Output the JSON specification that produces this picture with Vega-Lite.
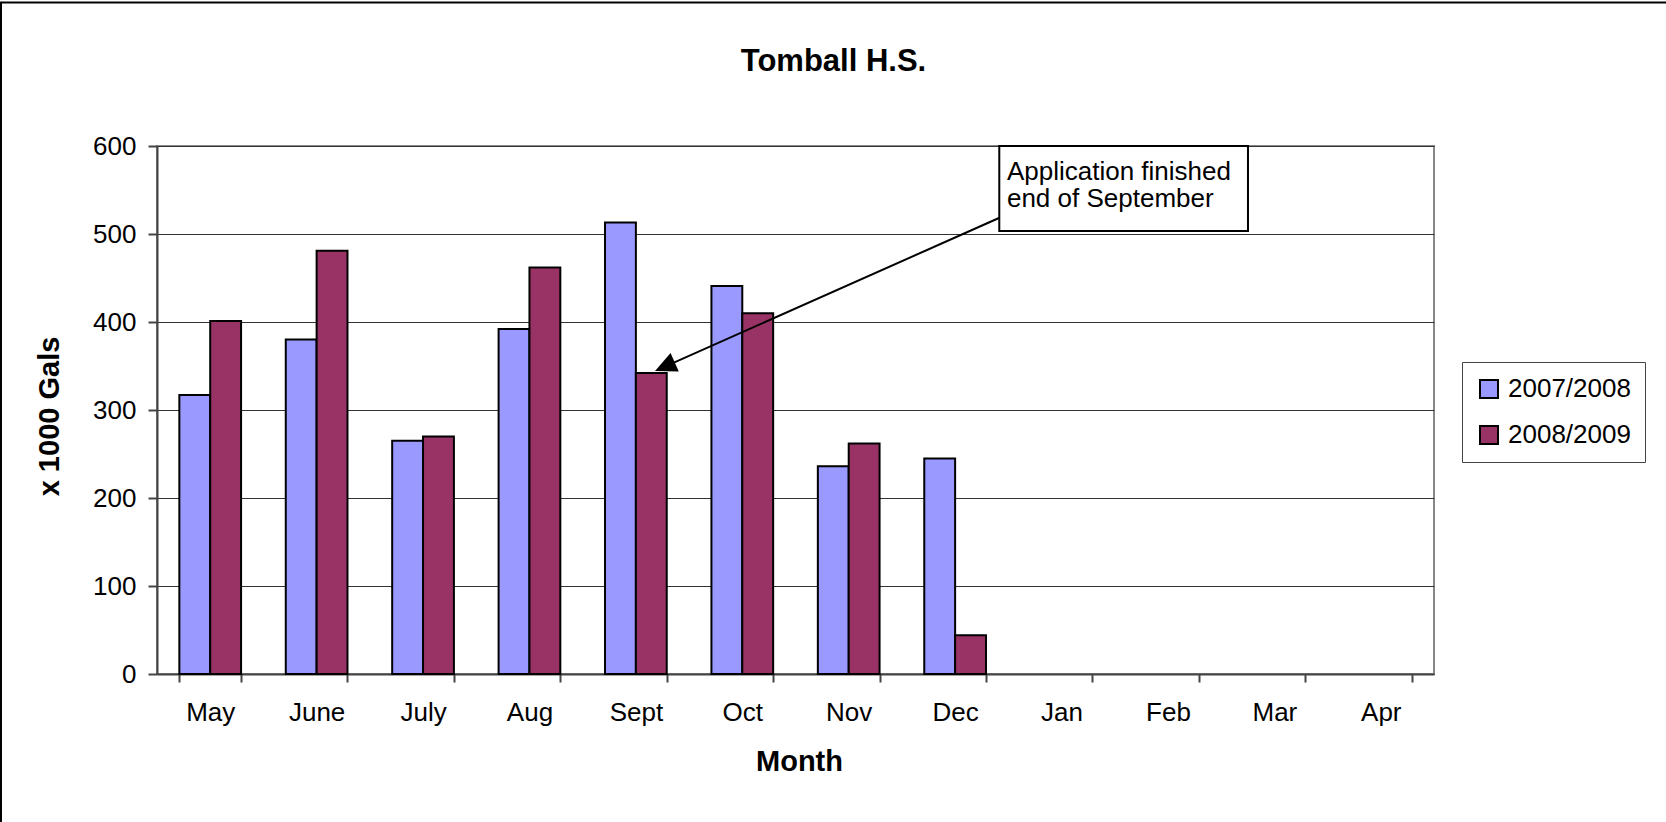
{
  "$schema": "https://vega.github.io/schema/vega-lite/v6.json",
  "width": 1277,
  "height": 528,
  "autosize": {"type": "none"},
  "padding": {"left": 157, "top": 146, "right": 232, "bottom": 148},
  "background": "white",
  "title": {
    "text": "Tomball H.S.",
    "fontSize": 31,
    "fontWeight": "bold",
    "color": "black",
    "anchor": "middle",
    "frame": "group",
    "baseline": "alphabetic",
    "dx": 38,
    "offset": -101
  },
  "config": {
    "font": "Liberation Sans",
    "view": {"stroke": "#888888", "strokeWidth": 2},
    "axis": {"labelColor": "black", "titleColor": "black", "labelFont": "Liberation Sans", "titleFont": "Liberation Sans"}
  },
  "datasets": {
    "usage": [
      {"month": "May", "season": "2007/2008", "gals": 317},
      {"month": "May", "season": "2008/2009", "gals": 401},
      {"month": "June", "season": "2007/2008", "gals": 380},
      {"month": "June", "season": "2008/2009", "gals": 481},
      {"month": "July", "season": "2007/2008", "gals": 265},
      {"month": "July", "season": "2008/2009", "gals": 270},
      {"month": "Aug", "season": "2007/2008", "gals": 392},
      {"month": "Aug", "season": "2008/2009", "gals": 462},
      {"month": "Sept", "season": "2007/2008", "gals": 513},
      {"month": "Sept", "season": "2008/2009", "gals": 342},
      {"month": "Oct", "season": "2007/2008", "gals": 441},
      {"month": "Oct", "season": "2008/2009", "gals": 410},
      {"month": "Nov", "season": "2007/2008", "gals": 236},
      {"month": "Nov", "season": "2008/2009", "gals": 262},
      {"month": "Dec", "season": "2007/2008", "gals": 245},
      {"month": "Dec", "season": "2008/2009", "gals": 44}
    ],
    "notebox": [{"x": 7.915, "x2": 10.252, "y": 600, "y2": 503.4}],
    "notetext": [
      {"x": 7.987, "y": 561.4, "text": "Application finished"},
      {"x": 7.987, "y": 530.7, "text": "end of September"}
    ],
    "arrowline": [{"x": 7.912, "y": 518.2, "x2": 4.809, "y2": 351.3}],
    "arrowhead": [{"x": 4.68, "y": 344.3}],
    "frame": [{"x": -1.466, "x2": 16, "y": 763.1, "y2": -300}]
  },
  "layer": [
    {
      "data": {"name": "usage"},
      "mark": {"type": "bar", "stroke": "black", "strokeWidth": 2},
      "encoding": {
        "x": {
          "field": "month",
          "type": "nominal",
          "sort": null,
          "scale": {
            "domain": ["May", "June", "July", "Aug", "Sept", "Oct", "Nov", "Dec", "Jan", "Feb", "Mar", "Apr"],
            "paddingInner": 0.42,
            "paddingOuter": 0.21
          },
          "axis": {
            "title": "Month",
            "titleFontSize": 29,
            "titleFontWeight": "bold",
            "titleBaseline": "alphabetic",
            "titleX": 642,
            "titleY": 96,
            "labelAngle": 0,
            "labelFontSize": 26,
            "labelPadding": 17,
            "tickBand": "extent",
            "tickSize": 8,
            "tickColor": "#444444",
            "tickWidth": 2,
            "domainColor": "#444444",
            "domainWidth": 2,
            "grid": false
          }
        },
        "xOffset": {
          "field": "season",
          "type": "nominal",
          "scale": {"paddingInner": 0, "paddingOuter": 0}
        },
        "y": {
          "field": "gals",
          "type": "quantitative",
          "scale": {"domain": [0, 600], "nice": false},
          "axis": {
            "title": "x 1000 Gals",
            "titleFontSize": 29,
            "titleFontWeight": "bold",
            "titleAngle": -90,
            "titleBaseline": "alphabetic",
            "titleAlign": "center",
            "titleX": -99,
            "titleY": 270,
            "values": [0, 100, 200, 300, 400, 500, 600],
            "labelFontSize": 26,
            "labelPadding": 12,
            "tickSize": 9,
            "tickColor": "#444444",
            "tickWidth": 2,
            "domainColor": "#444444",
            "domainWidth": 2,
            "grid": true,
            "gridColor": "#333333",
            "gridWidth": 1
          }
        },
        "color": {
          "field": "season",
          "type": "nominal",
          "scale": {"domain": ["2007/2008", "2008/2009"], "range": ["#9999FF", "#993366"]},
          "legend": {
            "title": null,
            "orient": "none",
            "legendX": 1305,
            "legendY": 216,
            "strokeColor": "#444444",
            "fillColor": "white",
            "padding": 14,
            "labelFontSize": 26,
            "labelColor": "black",
            "labelOffset": 6,
            "symbolType": "square",
            "symbolSize": 324,
            "symbolStrokeColor": "black",
            "symbolStrokeWidth": 2,
            "rowPadding": 20
          }
        }
      }
    },
    {
      "layer": [
        {
          "data": {"name": "notebox"},
          "mark": {"type": "rect", "fill": "white", "stroke": "black", "strokeWidth": 2},
          "encoding": {
            "x": {"field": "x", "type": "quantitative", "scale": {"domain": [0, 12], "nice": false, "zero": false}, "axis": null},
            "x2": {"field": "x2"},
            "y": {"field": "y", "type": "quantitative", "scale": {"domain": [0, 600], "nice": false}},
            "y2": {"field": "y2"}
          }
        },
        {
          "data": {"name": "notetext"},
          "mark": {"type": "text", "align": "left", "baseline": "alphabetic", "fontSize": 26, "color": "black", "font": "Liberation Sans"},
          "encoding": {
            "x": {"field": "x", "type": "quantitative", "scale": {"domain": [0, 12], "nice": false, "zero": false}, "axis": null},
            "y": {"field": "y", "type": "quantitative", "scale": {"domain": [0, 600], "nice": false}},
            "text": {"field": "text"}
          }
        },
        {
          "data": {"name": "arrowline"},
          "mark": {"type": "rule", "color": "black", "strokeWidth": 2},
          "encoding": {
            "x": {"field": "x", "type": "quantitative", "scale": {"domain": [0, 12], "nice": false, "zero": false}, "axis": null},
            "x2": {"field": "x2"},
            "y": {"field": "y", "type": "quantitative", "scale": {"domain": [0, 600], "nice": false}},
            "y2": {"field": "y2"}
          }
        },
        {
          "data": {"name": "arrowhead"},
          "mark": {"type": "point", "shape": "M0,0 L-1,-0.47 L-1,0.47 Z", "angle": 156, "size": 1849, "filled": true, "color": "black", "opacity": 1, "strokeWidth": 0},
          "encoding": {
            "x": {"field": "x", "type": "quantitative", "scale": {"domain": [0, 12], "nice": false, "zero": false}, "axis": null},
            "y": {"field": "y", "type": "quantitative", "scale": {"domain": [0, 600], "nice": false}}
          }
        },
        {
          "data": {"name": "frame"},
          "mark": {"type": "rect", "fill": null, "fillOpacity": 0, "stroke": "black", "strokeWidth": 2},
          "encoding": {
            "x": {"field": "x", "type": "quantitative", "scale": {"domain": [0, 12], "nice": false, "zero": false}, "axis": null},
            "x2": {"field": "x2"},
            "y": {"field": "y", "type": "quantitative", "scale": {"domain": [0, 600], "nice": false}},
            "y2": {"field": "y2"}
          }
        }
      ]
    }
  ],
  "resolve": {"scale": {"x": "independent"}}
}
